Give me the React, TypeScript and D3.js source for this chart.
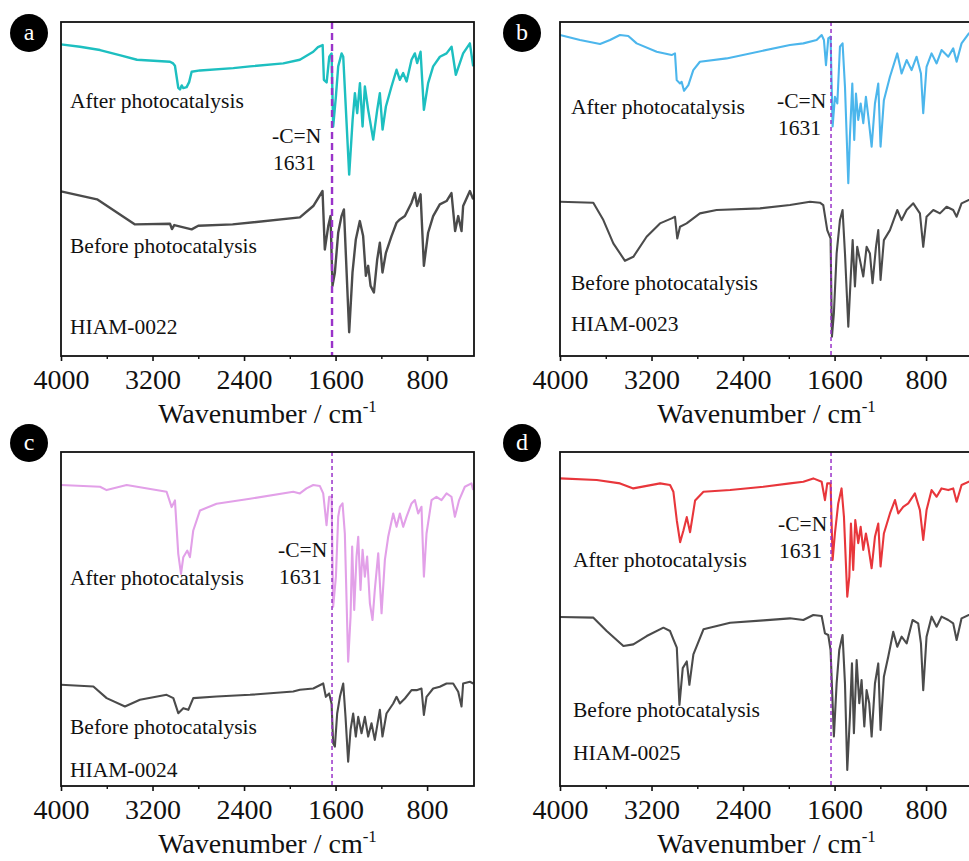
import React, { useRef, useEffect } from "react";
import * as d3 from "d3";

// FT-IR spectra, [wavenumber, relative transmittance (% of plot height)]
const afterA = [
  [4000, 93.3], [3834, 92.6], [3659, 91.6], [3480, 90.0], [3336, 88.7], [3047, 88.1], [3020, 87.6],
  [3004, 86.9], [2975, 80.3], [2960, 79.8], [2945, 81.0], [2931, 80.2], [2902, 80.5], [2880, 82.0],
  [2858, 85.1], [2785, 85.5], [2494, 86.2], [2348, 86.7], [2057, 87.6], [1912, 88.7], [1795, 91.1],
  [1754, 92.5], [1713, 93.1], [1702, 82.7], [1678, 81.9], [1655, 89.6], [1635, 90.6], [1621, 68.7],
  [1597, 77.7], [1577, 86.7], [1547, 90.6], [1533, 89.6], [1481, 54.3], [1451, 70.7], [1431, 78.7],
  [1411, 72.7], [1387, 81.7], [1364, 68.7], [1344, 80.7], [1315, 73.7], [1271, 64.8], [1236, 73.7],
  [1213, 78.7], [1189, 67.8], [1160, 74.7], [1111, 80.7], [1067, 85.7], [1038, 82.7], [1009, 84.7],
  [979, 82.2], [936, 88.7], [907, 90.6], [887, 87.7], [857, 91.1], [828, 73.7], [791, 81.7],
  [747, 86.7], [688, 89.6], [630, 90.6], [586, 92.6], [549, 84.2], [485, 90.6], [426, 93.6], [397, 86.7],
];
const beforeA = [
  [4000, 49.3], [3685, 46.9], [3353, 39.4], [3047, 39.6], [3030, 38.0], [3010, 39.2], [2858, 37.9],
  [2800, 39.0], [2500, 39.4], [1912, 41.5], [1795, 44.9], [1714, 49.4], [1694, 31.9], [1664, 38.9],
  [1644, 41.9], [1627, 21.0], [1606, 25.0], [1577, 36.9], [1548, 41.9], [1527, 43.9], [1481, 7.1],
  [1452, 25.0], [1423, 34.9], [1388, 40.4], [1359, 35.9], [1335, 24.0], [1315, 27.0], [1294, 21.0],
  [1265, 19.0], [1236, 28.9], [1213, 33.9], [1190, 25.0], [1160, 30.9], [1111, 35.9], [1067, 39.9],
  [1038, 40.9], [994, 41.9], [936, 45.9], [907, 48.8], [887, 44.9], [857, 48.4], [828, 27.0],
  [791, 36.9], [747, 41.9], [689, 45.4], [630, 46.4], [587, 48.8], [555, 37.4], [528, 41.9],
  [499, 37.4], [485, 44.9], [426, 49.4], [397, 46.9],
];
const afterB = [
  [4000, 96.1], [3825, 94.6], [3650, 93.4], [3563, 94.6], [3476, 96.1], [3403, 95.8], [3330, 93.6],
  [3155, 91.1], [3024, 90.1], [2995, 90.6], [2980, 82.6], [2951, 81.6], [2937, 82.1], [2916, 79.4],
  [2878, 81.1], [2835, 85.6], [2777, 88.1], [2544, 89.1], [1990, 93.1], [1873, 93.6], [1757, 94.6],
  [1713, 96.1], [1693, 94.6], [1675, 87.1], [1655, 95.1], [1635, 95.6], [1617, 68.7], [1597, 77.6],
  [1576, 75.6], [1553, 92.6], [1530, 93.6], [1509, 80.6], [1480, 51.7], [1466, 65.7], [1445, 81.6],
  [1428, 64.7], [1413, 78.6], [1393, 70.7], [1372, 75.6], [1349, 69.7], [1326, 77.6], [1305, 71.7],
  [1276, 62.7], [1247, 75.6], [1218, 81.6], [1198, 62.7], [1169, 76.6], [1116, 83.6], [1052, 90.6],
  [1014, 84.6], [970, 88.6], [927, 85.6], [883, 89.6], [845, 84.6], [825, 72.7], [796, 86.6],
  [752, 90.6], [708, 87.6], [665, 91.6], [606, 89.6], [563, 92.1], [533, 88.1], [490, 93.6],
  [426, 96.6], [397, 96.5],
];
const beforeB = [
  [4000, 46.2], [3709, 45.9], [3621, 40.7], [3534, 33.7], [3432, 28.5], [3359, 29.7], [3243, 35.7],
  [3126, 39.7], [3024, 41.2], [2995, 41.7], [2975, 35.2], [2951, 38.7], [2893, 39.7], [2777, 42.7],
  [2631, 43.7], [2252, 44.2], [1990, 45.2], [1815, 46.2], [1728, 45.9], [1699, 45.2], [1664, 37.7],
  [1635, 35.2], [1623, 5.8], [1606, 12.8], [1582, 30.7], [1553, 40.7], [1530, 43.7], [1509, 30.7],
  [1480, 8.8], [1460, 22.8], [1442, 34.7], [1422, 20.8], [1402, 32.7], [1378, 28.7], [1349, 23.8],
  [1320, 32.7], [1291, 30.7], [1268, 21.8], [1238, 32.7], [1218, 37.7], [1198, 22.8], [1169, 34.7],
  [1116, 37.7], [1052, 43.7], [1014, 40.7], [970, 43.7], [912, 45.7], [854, 42.7], [825, 32.7],
  [796, 41.7], [737, 43.7], [679, 42.7], [621, 44.7], [563, 43.7], [533, 41.7], [490, 45.7],
  [426, 46.7], [397, 46.6],
];
const afterC = [
  [4000, 90.1], [3659, 89.6], [3601, 88.6], [3426, 90.1], [3077, 88.1], [3033, 83.5], [3004, 85.5],
  [2975, 69.5], [2951, 63.5], [2931, 68.5], [2896, 70.5], [2873, 68.5], [2844, 76.5], [2785, 82.5],
  [2640, 84.5], [2348, 86.0], [1970, 88.1], [1912, 87.6], [1854, 89.1], [1795, 90.1], [1737, 89.8],
  [1708, 87.6], [1679, 78.1], [1656, 86.6], [1635, 86.6], [1621, 53.7], [1597, 62.7], [1577, 80.6],
  [1562, 83.6], [1539, 84.6], [1519, 75.6], [1490, 37.2], [1469, 50.7], [1455, 71.7], [1437, 52.7],
  [1417, 68.7], [1402, 74.6], [1382, 58.7], [1364, 70.7], [1344, 62.7], [1324, 68.7], [1300, 54.7],
  [1277, 49.7], [1257, 58.7], [1227, 69.7], [1198, 51.7], [1169, 67.7], [1140, 74.6], [1096, 81.6],
  [1067, 77.6], [1038, 81.6], [1009, 77.6], [980, 80.6], [936, 84.6], [907, 85.6], [878, 81.6],
  [849, 83.6], [828, 62.7], [805, 75.6], [761, 85.6], [718, 86.6], [674, 85.6], [630, 87.6],
  [587, 86.6], [557, 80.6], [520, 85.6], [470, 89.6], [412, 90.6], [397, 88.6],
];
const beforeC = [
  [4000, 30.3], [3717, 29.8], [3601, 26.3], [3441, 23.8], [3310, 25.8], [3077, 27.3], [3018, 26.3],
  [2975, 21.8], [2931, 23.3], [2887, 22.8], [2844, 26.3], [2640, 26.8], [2348, 27.3], [1970, 28.3],
  [1912, 28.8], [1795, 29.2], [1708, 30.7], [1685, 26.7], [1656, 27.7], [1635, 24.7], [1621, 12.8],
  [1606, 11.8], [1586, 21.7], [1562, 26.7], [1533, 30.7], [1513, 20.7], [1490, 7.3], [1469, 16.8],
  [1446, 21.7], [1423, 14.8], [1402, 20.7], [1373, 15.8], [1344, 20.7], [1315, 14.8], [1286, 18.8],
  [1257, 13.8], [1213, 22.8], [1190, 14.8], [1155, 21.7], [1096, 24.7], [1067, 26.7], [1038, 24.7],
  [994, 26.2], [936, 28.7], [892, 28.7], [849, 29.2], [828, 21.3], [805, 26.7], [747, 29.2],
  [689, 29.7], [630, 30.7], [572, 30.7], [528, 28.2], [499, 23.8], [485, 30.7], [426, 31.2], [397, 30.7],
];
const afterD = [
  [4000, 92.1], [3679, 91.6], [3475, 90.6], [3359, 89.1], [3125, 90.6], [3038, 90.1], [3009, 88.1],
  [2979, 79.5], [2950, 73.0], [2921, 76.5], [2892, 80.5], [2863, 76.0], [2819, 85.5], [2746, 88.1],
  [2513, 88.6], [2221, 89.6], [1990, 90.6], [1873, 91.1], [1786, 92.1], [1713, 91.1], [1684, 85.6],
  [1664, 90.6], [1635, 90.6], [1617, 67.7], [1597, 75.6], [1568, 84.6], [1539, 89.1], [1518, 80.6],
  [1489, 56.7], [1471, 62.7], [1457, 78.6], [1437, 64.7], [1419, 79.6], [1393, 72.7], [1372, 77.6],
  [1349, 70.7], [1326, 75.6], [1305, 71.7], [1276, 65.2], [1247, 74.6], [1218, 78.6], [1198, 65.7],
  [1169, 75.6], [1116, 81.6], [1072, 85.6], [1043, 81.6], [1000, 83.6], [956, 84.6], [898, 87.6],
  [854, 82.6], [825, 73.7], [796, 82.6], [752, 88.6], [708, 86.6], [665, 89.1], [606, 88.6],
  [563, 89.1], [533, 85.1], [490, 90.1], [426, 91.1], [397, 91.4],
];
const beforeD = [
  [4000, 50.6], [3708, 50.4], [3592, 46.4], [3446, 41.9], [3359, 42.4], [3242, 44.9], [3096, 47.4],
  [3038, 46.4], [3009, 43.9], [2979, 41.4], [2956, 24.3], [2927, 35.3], [2892, 37.3], [2869, 30.3],
  [2834, 39.4], [2746, 46.9], [2513, 48.9], [2221, 49.6], [1990, 50.2], [1873, 49.7], [1786, 51.2],
  [1713, 50.9], [1684, 45.7], [1655, 45.2], [1635, 40.7], [1617, 24.8], [1606, 14.8], [1582, 30.7],
  [1559, 40.7], [1530, 45.2], [1509, 30.7], [1489, 4.8], [1466, 20.7], [1448, 36.7], [1431, 15.8],
  [1407, 37.7], [1384, 24.8], [1364, 31.7], [1340, 17.8], [1320, 28.7], [1297, 24.8], [1276, 14.8],
  [1247, 30.7], [1218, 36.7], [1198, 16.8], [1169, 32.7], [1131, 38.7], [1087, 46.2], [1052, 41.7],
  [1014, 44.7], [970, 42.7], [918, 49.7], [869, 48.7], [845, 42.7], [825, 28.7], [796, 44.7],
  [752, 50.7], [708, 47.7], [665, 50.7], [606, 49.7], [563, 48.7], [533, 43.7], [490, 50.2],
  [426, 51.2], [397, 51.0],
];

const xDomain = [4000, 390];
const majorTicks = [4000, 3200, 2400, 1600, 800];
const minorTicks = [3600, 2800, 2000, 1200];
const cnPeak = 1631;
const sampleNames = ["HIAM-0022", "HIAM-0023", "HIAM-0024", "HIAM-0025"];
const panelLetters = ["a", "b", "c", "d"];

const FONT = "'Liberation Serif', 'Times New Roman', serif";
const W = 413;
const H = 334;

const panels = [
  {
    letter: panelLetters[0], name: sampleNames[0], after: afterA, before: beforeA,
    color: "#1dbfc0", ox: 61, oy: 22, lw: 2.4, dashW: 2.4, dash: "7,4",
    circle: [-32, 11], afterPos: [9, 86], beforePos: [9, 231], namePos: [9, 312], cnPos: [211, 121],
  },
  {
    letter: panelLetters[1], name: sampleNames[1], after: afterB, before: beforeB,
    color: "#4cb6ec", ox: 560, oy: 22, lw: 2.1, dashW: 1.5, dash: "4,3",
    circle: [-38, 11], afterPos: [11, 92], beforePos: [11, 268], namePos: [11, 309], cnPos: [217, 86],
  },
  {
    letter: panelLetters[2], name: sampleNames[2], after: afterC, before: beforeC,
    color: "#e2a0e8", ox: 61, oy: 452, lw: 2.1, dashW: 1.5, dash: "4,3",
    circle: [-32, -9], afterPos: [9, 133], beforePos: [9, 282], namePos: [9, 325], cnPos: [217, 105],
  },
  {
    letter: panelLetters[3], name: sampleNames[3], after: afterD, before: beforeD,
    color: "#e8363b", ox: 560, oy: 452, lw: 2.1, dashW: 1.5, dash: "4,3",
    circle: [-38, -9], afterPos: [13, 115], beforePos: [13, 265], namePos: [13, 308], cnPos: [218, 79],
  },
];

function App() {
  const ref = useRef(null);

  useEffect(() => {
    const svg = d3.select(ref.current);
    svg.selectAll("*").remove();

    const x = d3.scaleLinear().domain(xDomain).range([0, W]);
    const y = d3.scaleLinear().domain([0, 100]).range([H, 0]);
    const line = d3
      .line()
      .x((d) => x(d[0]))
      .y((d) => y(d[1]));

    panels.forEach((p) => {
      const g = svg.append("g").attr("transform", `translate(${p.ox},${p.oy})`);

      // spectra
      g.append("path")
        .datum(p.before)
        .attr("fill", "none")
        .attr("stroke", "#4b4b4b")
        .attr("stroke-width", p.lw)
        .attr("stroke-linejoin", "round")
        .attr("d", line);
      g.append("path")
        .datum(p.after)
        .attr("fill", "none")
        .attr("stroke", p.color)
        .attr("stroke-width", p.lw)
        .attr("stroke-linejoin", "round")
        .attr("d", line);

      // C=N marker
      g.append("line")
        .attr("x1", x(cnPeak))
        .attr("x2", x(cnPeak))
        .attr("y1", 0)
        .attr("y2", H)
        .attr("stroke", "#9a33c9")
        .attr("stroke-width", p.dashW)
        .attr("stroke-dasharray", p.dash);

      // frame
      g.append("rect")
        .attr("width", W)
        .attr("height", H)
        .attr("fill", "none")
        .attr("stroke", "#111")
        .attr("stroke-width", 1.8);

      // axes
      const ax = g
        .append("g")
        .attr("transform", `translate(0,${H})`)
        .call(
          d3.axisBottom(x).tickValues(majorTicks).tickSize(5).tickPadding(8).tickFormat(d3.format("d"))
        );
      ax.select(".domain").remove();
      ax.selectAll("line").attr("stroke", "#111").attr("stroke-width", 1.6);
      ax.selectAll("text").attr("font-family", FONT).attr("font-size", 28).attr("fill", "#111");

      const mx = g
        .append("g")
        .attr("transform", `translate(0,${H})`)
        .call(d3.axisBottom(x).tickValues(minorTicks).tickSize(3).tickFormat(() => ""));
      mx.select(".domain").remove();
      mx.selectAll("line").attr("stroke", "#111").attr("stroke-width", 1.4);

      const title = g
        .append("text")
        .attr("x", W / 2)
        .attr("y", H + 67)
        .attr("text-anchor", "middle")
        .attr("font-family", FONT)
        .attr("font-size", 28)
        .attr("fill", "#111");
      title.append("tspan").text("Wavenumber / cm");
      title.append("tspan").attr("dy", -11).attr("font-size", 17).text("-1");

      // labels
      const lab = (pos, txt) =>
        g.append("text")
          .attr("x", pos[0])
          .attr("y", pos[1])
          .attr("font-family", FONT)
          .attr("font-size", 21.5)
          .attr("fill", "#111")
          .text(txt);
      lab(p.afterPos, "After photocatalysis");
      lab(p.beforePos, "Before photocatalysis");
      lab(p.namePos, p.name);
      lab(p.cnPos, "-C=N");
      lab([p.cnPos[0] + 1, p.cnPos[1] + 27], String(cnPeak));

      // panel letter
      g.append("circle")
        .attr("cx", p.circle[0])
        .attr("cy", p.circle[1])
        .attr("r", 19)
        .attr("fill", "#000");
      g.append("text")
        .attr("x", p.circle[0])
        .attr("y", p.circle[1] + 7)
        .attr("text-anchor", "middle")
        .attr("font-family", FONT)
        .attr("font-size", 24)
        .attr("fill", "#fff")
        .text(p.letter);
    });
  }, []);

  return (
    <svg
      ref={ref}
      width={969}
      height={861}
      style={{ position: "absolute", left: 0, top: 0, background: "#fff" }}
    ></svg>
  );
}

export default App;
